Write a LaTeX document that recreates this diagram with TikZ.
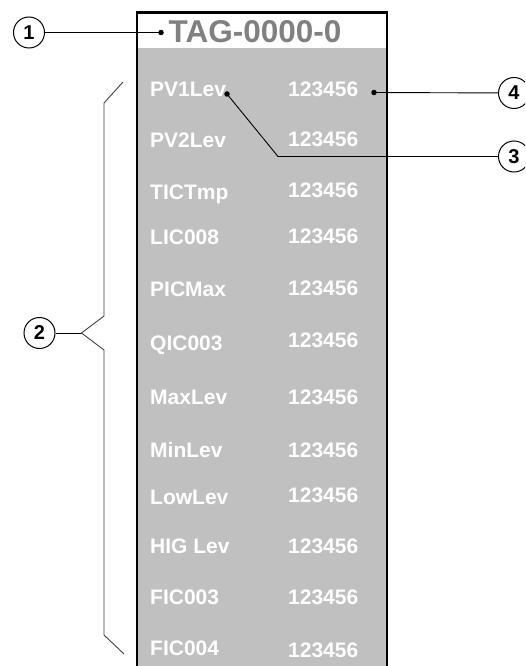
\documentclass[tikz,border=0pt]{standalone}
\usepackage{fontspec}
\setmainfont{Liberation Sans}
\definecolor{panelgray}{HTML}{C0C0C0}
\definecolor{titlegray}{HTML}{808080}
\definecolor{bracegray}{HTML}{404040}
\begin{document}
\begin{tikzpicture}[x=1pt,y=-1pt,
  callout/.style={circle,draw,line width=1pt,minimum size=31pt,inner sep=0pt,
    font=\fontsize{20}{22}\selectfont\bfseries},
  leader/.style={line width=0.9pt,black},
  bracelines/.style={line width=0.9pt,bracegray},
  pointdot/.style={circle,fill=black,inner sep=0pt,minimum size=5.5pt},
  rowlabel/.style={anchor=base west,text=white,inner sep=0pt,
    font=\fontsize{21}{24}\selectfont\bfseries},
  rowvalue/.style={anchor=base west,text=white,inner sep=0pt,
    font=\fontsize{21}{24}\selectfont\bfseries},
  titletext/.style={anchor=base,text=titlegray,inner sep=0pt,
    font=\fontsize{31.5}{34}\selectfont\bfseries}]
\useasboundingbox (0,0) rectangle (525,666);
\clip (0,0) rectangle (525,666);
% panel
\fill[white] (137,12) rectangle (387,48);
\fill[panelgray] (137,48) rectangle (387,680);
\draw[line width=2.5pt] (137,680) -- (137,12.5) -- (387,12.5) -- (387,680);
% title
\node[titletext] (title) at (255,42.5) {TAG-0000-0};
% rows
\foreach \lab/\ly/\vy [count=\i] in {PV1Lev/89/89, PV2Lev/140/139, TICTmp/192/190,
  LIC008/237/236, PICMax/289/288, QIC003/343/340, MaxLev/397/397, MinLev/450/450,
  LowLev/497/495, HIG Lev/546/546, FIC003/597/597, FIC004/648/650}{
  \node[rowlabel] (lab\i) at (150,\ly+7.5) {\lab};
  \node[rowvalue] (val\i) at (288,\vy+7.5) {123456};
}
% callouts
\node[callout] (c1) at (29,32.5) {1};
\node[callout] (c2) at (39.5,333) {2};
\node[callout] (c3) at (514,156.5) {3};
\node[callout] (c4) at (514,93) {4};
% dots
\node[pointdot] (d1) at (161,32.5) {};
\node[pointdot] (d3) at (227,94) {};
\node[pointdot] (d4) at (374,92.5) {};
% leaders
\draw[leader] (c1) -- (d1.center);
\draw[leader] (c4) -- (d4.center);
\coordinate (k3) at (278,156.5);
\draw[leader] (c3) -- (k3) -- (d3.center);
% brace
\coordinate (tip) at (81.5,333);
\coordinate (bu) at (104,316);
\coordinate (tu) at (104,103);
\coordinate (eu) at (123,82);
\coordinate (bl) at (104,350);
\coordinate (tl) at (104,635);
\coordinate (el) at (124,654);
\draw[leader] (c2) -- (tip);
\draw[bracelines] (eu) -- (tu) -- (bu) -- (tip) -- (bl) -- (tl) -- (el);
\end{tikzpicture}
\end{document}
